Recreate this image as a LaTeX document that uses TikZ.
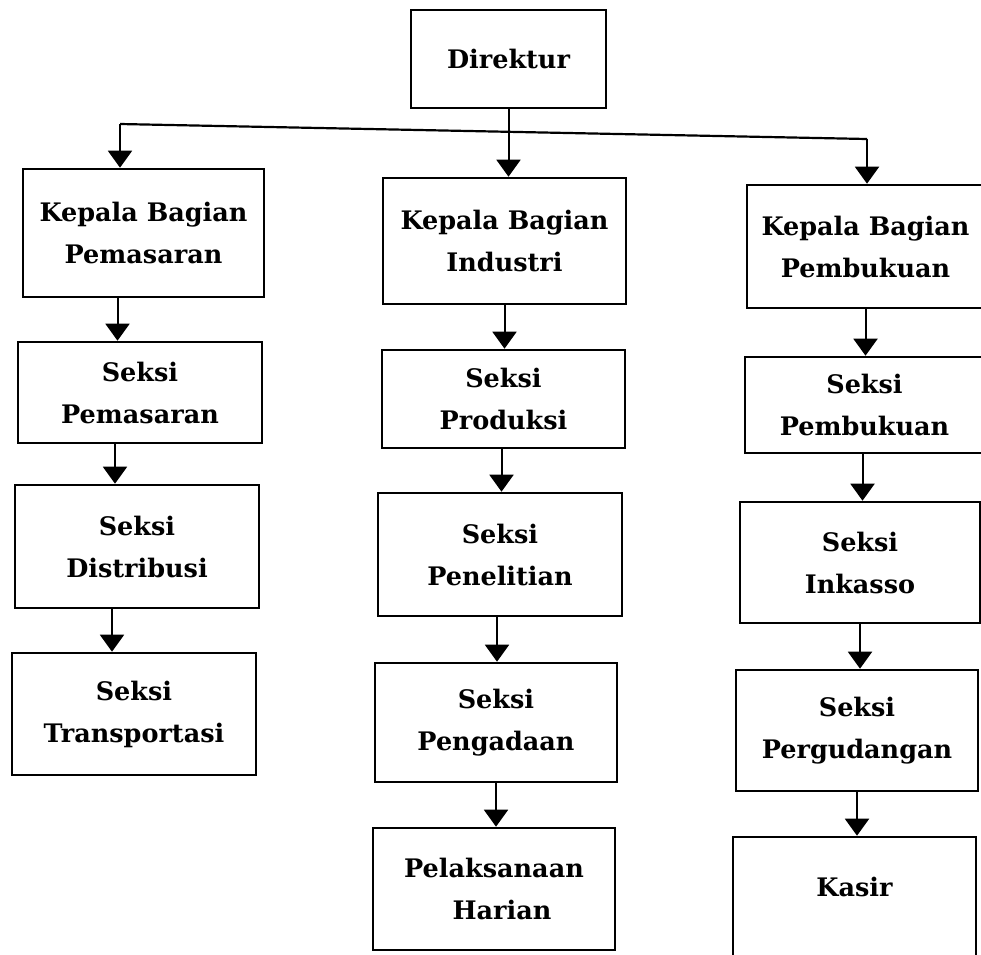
\documentclass[tikz,border=0pt]{standalone}
\usepackage{fontspec}
\setmainfont{DejaVu Serif}
\usetikzlibrary{arrows.meta}
\tikzset{
  box/.style={draw=black, line width=2.6pt, fill=white, inner sep=0pt, align=center,
              font=\fontsize{25.5}{42}\selectfont\bfseries},
  lbl/.style={inner sep=0pt, align=center, font=\fontsize{25.5}{42}\selectfont\bfseries},
  arr/.style={line width=2pt, -{Triangle[width=24pt,length=17pt]}},
  bus/.style={line width=2.2pt}
}
\begin{document}
\begin{tikzpicture}[x=1pt,y=-1pt]
\useasboundingbox (0,0) rectangle (981,954);
\clip (0,0) rectangle (981,954);
\fill[white] (0,0) rectangle (981,954);
% top
\node[box, minimum width=195pt, minimum height=98pt] (dir) at (508.5,59) {Direktur};
\node[box, minimum width=241pt, minimum height=128pt] (kbp) at (143.5,233) {Kepala Bagian\\Pemasaran};
\node[box, minimum width=243pt, minimum height=126pt] (kbi) at (504.5,241) {Kepala Bagian\\Industri};
\node[box, minimum width=237pt, minimum height=123pt] (kbk) at (865.5,246.5) {Kepala Bagian\\Pembukuan};
% left column
\node[box, minimum width=244pt, minimum height=101pt] (sp) at (140,392.5) {Seksi\\Pemasaran};
\node[box, minimum width=244pt, minimum height=123pt] (sd) at (137,546.5) {Seksi\\Distribusi};
\node[box, minimum width=244pt, minimum height=122pt] (st) at (134,714) {Seksi\\Transportasi};
% middle column
\node[box, minimum width=243pt, minimum height=98pt] (spr) at (503.5,399) {Seksi\\Produksi};
\node[box, minimum width=244pt, minimum height=123pt] (spn) at (500,554.5) {Seksi\\Penelitian};
\node[box, minimum width=242pt, minimum height=119pt] (spg) at (496,722.5) {Seksi\\Pengadaan};
\node[box, minimum width=242pt, minimum height=122pt] (ph) at (494,889) {Pelaksanaan\\\hspace*{16pt}Harian};
% right column
\node[box, minimum width=239pt, minimum height=96pt] (spb) at (864.5,405) {Seksi\\Pembukuan};
\node[box, minimum width=240pt, minimum height=121pt] (si) at (860,562.5) {Seksi\\Inkasso};
\node[box, minimum width=242pt, minimum height=121pt] (sg) at (857,730.5) {Seksi\\Pergudangan};
\node[box, minimum width=243pt, minimum height=150pt] (kasir) at (854.5,912) {};
\node[lbl] (kasirlbl) at (854.5,887) {Kasir};
% bus
\coordinate (busL) at (120,124);
\coordinate (busR) at (867,139);
\draw[bus] (busL) -- (busR);
\draw[arr] (busL) -- (busL |- kbp.north);
\draw[arr] (busR) -- (busR |- kbk.north);
\draw[arr] (dir.south) -- (dir.south |- kbi.north);
% left arrows
\draw[arr] ([xshift=-26pt]kbp.south) -- ([xshift=-26pt]kbp.south |- sp.north);
\draw[arr] ([xshift=-25pt]sp.south) -- ([xshift=-25pt]sp.south |- sd.north);
\draw[arr] ([xshift=-25pt]sd.south) -- ([xshift=-25pt]sd.south |- st.north);
% middle arrows
\draw[arr] (kbi.south) -- (kbi.south |- spr.north);
\draw[arr] ([xshift=-2pt]spr.south) -- ([xshift=-2pt]spr.south |- spn.north);
\draw[arr] ([xshift=-3pt]spn.south) -- ([xshift=-3pt]spn.south |- spg.north);
\draw[arr] (spg.south) -- (spg.south |- ph.north);
% right arrows
\draw[arr] (kbk.south) -- (kbk.south |- spb.north);
\draw[arr] ([xshift=-2pt]spb.south) -- ([xshift=-2pt]spb.south |- si.north);
\draw[arr] (si.south) -- (si.south |- sg.north);
\draw[arr] (sg.south) -- (sg.south |- kasir.north);
\end{tikzpicture}
\end{document}
